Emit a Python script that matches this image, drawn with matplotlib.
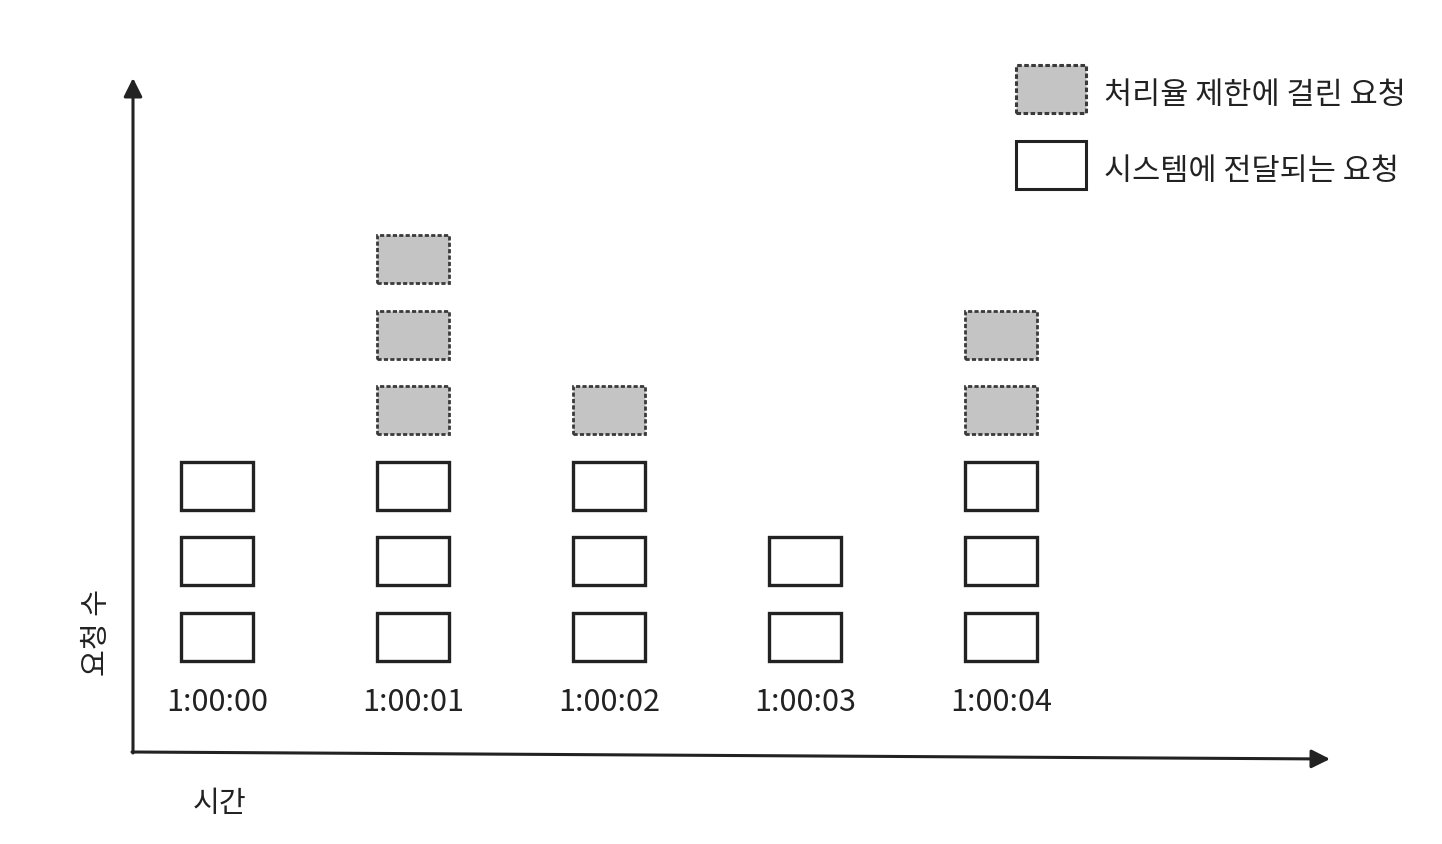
import matplotlib.pyplot as plt
from matplotlib.patches import Rectangle

plt.rcParams['font.family'] = ['Noto Sans CJK KR', 'DejaVu Sans']

# requests per second
times = ['1:00:00', '1:00:01', '1:00:02', '1:00:03', '1:00:04']
passed = [3, 3, 3, 2, 3]      # 시스템에 전달되는 요청
throttled = [0, 3, 1, 0, 2]   # 처리율 제한에 걸린 요청

edge = '#222222'
gray = '#c4c4c4'
dash = (0, (1.5, 0.8))
box_w, box_h = 0.367, 0.636

fig = plt.figure(figsize=(14.42, 8.44), dpi=100)
fig.patch.set_facecolor('white')
ax = fig.add_axes([0, 0, 1, 1])
ax.set_xlim(-1.107, 6.25)
ax.set_ylim(-2.742, 8.437)
ax.axis('off')

for i, t in enumerate(times):
    for j in range(passed[i] + throttled[i]):
        if j < passed[i]:
            ax.add_patch(Rectangle((i - box_w / 2, j - box_h / 2), box_w, box_h,
                                   facecolor='white', edgecolor=edge, linewidth=2.4))
        else:
            ax.add_patch(Rectangle((i - box_w / 2, j - box_h / 2), box_w, box_h,
                                   facecolor=gray, edgecolor='#3a3a3a', linewidth=2.0,
                                   linestyle=dash))
    ax.text(i, -0.87, t, ha='center', va='center', fontsize=22, color='#222222')

# axes with arrows
ax.annotate('', xy=(133 / 1442, 1 - 78 / 844), xytext=(133 / 1442, 1 - 753 / 844),
            xycoords='figure fraction',
            arrowprops=dict(arrowstyle='-|>', color=edge, lw=2.2,
                            mutation_scale=28, shrinkA=0, shrinkB=0))
ax.annotate('', xy=(1330 / 1442, 1 - 759 / 844), xytext=(132 / 1442, 1 - 752 / 844),
            xycoords='figure fraction',
            arrowprops=dict(arrowstyle='-|>', color=edge, lw=2.2,
                            mutation_scale=28, shrinkA=0, shrinkB=0))

fig.text(97 / 1442, 1 - 632 / 844, '요청 수', rotation=90, ha='center', va='center',
         fontsize=21, fontweight='medium', color='#222222')
fig.text(220 / 1442, 1 - 804 / 844, '시간', ha='center', va='center',
         fontsize=21, fontweight='medium', color='#222222')

# legend
legend_items = [('처리율 제한에 걸린 요청', gray, dash, '#3a3a3a', 65),
                ('시스템에 전달되는 요청', 'white', '-', edge, 141)]
for label, fc, ls, ec, top in legend_items:
    fig.patches.append(Rectangle((1016 / 1442, 1 - (top + 48) / 844), 70 / 1442, 48 / 844,
                                 transform=fig.transFigure, facecolor=fc,
                                 edgecolor=ec, linewidth=2.2, linestyle=ls))
    fig.text(1104 / 1442, 1 - (top + 30) / 844, label, ha='left', va='center',
             fontsize=22, fontweight='medium', color='#222222')

fig.savefig('out.png', dpi=100)
